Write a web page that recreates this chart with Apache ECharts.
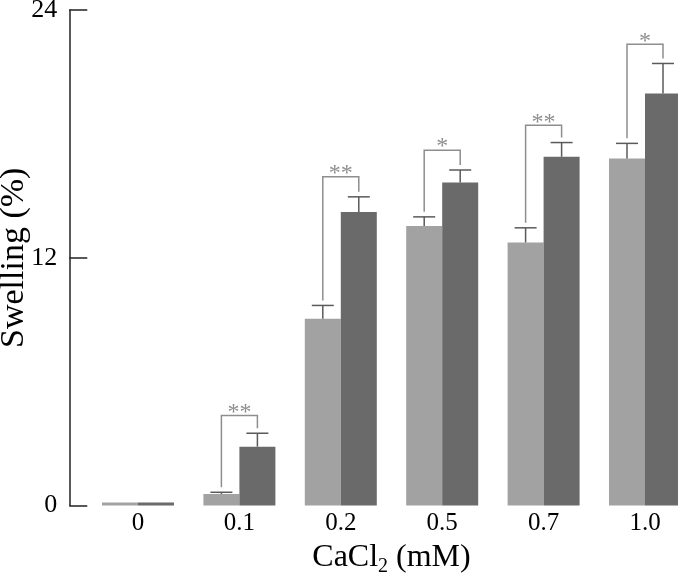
<!DOCTYPE html>
<html>
<head>
<meta charset="utf-8">
<script src="https://cdn.jsdelivr.net/npm/echarts@6/dist/echarts.min.js"></script>
<style>
html,body{margin:0;padding:0;background:#fff;}
#chart{width:678px;height:578px;}
</style>
</head>
<body>
<div id="chart"></div>
<script>
// ---- data ----
const categories = ['0', '0.1', '0.2', '0.5', '0.7', '1.0'];
const lightValues = [0.15, 0.56, 9.05, 13.54, 12.74, 16.81];
const lightErrors = [0, 0.08, 0.64, 0.44, 0.71, 0.73];
const darkValues = [0.15, 2.85, 14.22, 15.65, 16.89, 19.96];
const darkErrors = [0, 0.65, 0.73, 0.6, 0.69, 1.45];
const bracketHeights = [null, 4.36, 15.92, 17.21, 18.42, 22.34];
const sigLabels = ['', '**', '**', '*', '**', '*'];
const yTicks = [0, 12, 24];

// ---- styles ----
const FONT = '"Liberation Serif", "Times New Roman", serif';
const BAR_W = 36;
const LIGHT = '#a2a2a2';
const DARK = '#6a6a6a';
const ERR_COLOR = '#5a5a5a';
const BRACKET_COLOR = '#8e8e8e';

const errData = [];
categories.forEach((c, i) => {
  if (lightErrors[i] > 0) errData.push([i, lightValues[i], lightErrors[i], -1]);
  if (darkErrors[i] > 0) errData.push([i, darkValues[i], darkErrors[i], 1]);
});
const bracketData = [];
categories.forEach((c, i) => {
  if (bracketHeights[i] != null) {
    bracketData.push([i, lightValues[i] + lightErrors[i], darkValues[i] + darkErrors[i], bracketHeights[i], sigLabels[i]]);
  }
});

const chart = echarts.init(document.getElementById('chart'), null, {renderer: 'canvas'});
chart.setOption({
  animation: false,
  backgroundColor: '#fff',
  grid: {left: 87.3, right: -17.7, top: 10, bottom: 72.5, outerBoundsMode: 'none', containLabel: false},
  xAxis: {
    type: 'category',
    data: categories,
    axisLine: {show: false},
    axisTick: {show: false},
    axisLabel: {fontFamily: FONT, fontSize: 25, color: '#000', margin: 5},
    name: '{a|CaCl}{s|2}{a| (mM)}',
    nameLocation: 'middle',
    nameGap: 52,
    nameMoveOverlap: false,
    nameTextStyle: {
      verticalAlign: 'middle',
      rich: {
        a: {fontFamily: FONT, fontSize: 32, color: '#000', lineHeight: 36},
        s: {fontFamily: FONT, fontSize: 20, color: '#000', lineHeight: 20, padding: [17, 0, 0, 0], verticalAlign: 'top'}
      }
    }
  },
  yAxis: {
    type: 'value',
    min: yTicks[0],
    max: yTicks[yTicks.length - 1],
    interval: yTicks[1] - yTicks[0],
    offset: 18,
    axisLine: {show: true, lineStyle: {color: '#222', width: 1.5}},
    axisTick: {show: true, inside: true, length: 18, lineStyle: {color: '#222', width: 1.5}},
    splitLine: {show: false},
    axisLabel: {fontFamily: FONT, fontSize: 26, color: '#000', margin: 12},
    name: 'Swelling (%)',
    nameLocation: 'middle',
    nameRotate: 90,
    nameGap: 55,
    nameMoveOverlap: false,
    nameTextStyle: {fontFamily: FONT, fontSize: 34, color: '#000', verticalAlign: 'middle'}
  },
  series: [
    {type: 'bar', data: lightValues, barWidth: BAR_W, barGap: '0%', itemStyle: {color: LIGHT}},
    {type: 'bar', data: darkValues, barWidth: BAR_W, barGap: '0%', itemStyle: {color: DARK}},
    {
      type: 'custom',
      data: errData,
      clip: false,
      z: 5,
      renderItem: function (params, api) {
        const i = api.value(0), v = api.value(1), e = api.value(2), side = api.value(3);
        const base = api.coord([i, v]);
        const topP = api.coord([i, v + e]);
        const x = base[0] + side * BAR_W / 2;
        const capW = 22;
        return {
          type: 'group',
          children: [
            {type: 'line', shape: {x1: x, y1: base[1], x2: x, y2: topP[1]}, style: {stroke: ERR_COLOR, lineWidth: 1.5}},
            {type: 'line', shape: {x1: x - capW / 2, y1: topP[1], x2: x + capW / 2, y2: topP[1]}, style: {stroke: ERR_COLOR, lineWidth: 1.5}}
          ]
        };
      }
    },
    {
      type: 'custom',
      data: bracketData,
      clip: false,
      z: 6,
      renderItem: function (params, api) {
        const i = api.value(0);
        const lTop = api.value(1), dTop = api.value(2), bH = api.value(3);
        const label = bracketData[params.dataIndex][4];
        const xc = api.coord([i, 0])[0];
        const xl = xc - BAR_W / 2, xr = xc + BAR_W / 2;
        const yT = api.coord([i, bH])[1];
        const yL = api.coord([i, lTop])[1] - 5;
        const yR = api.coord([i, dTop])[1] - 5;
        return {
          type: 'group',
          children: [
            {type: 'polyline', shape: {points: [[xl, yL], [xl, yT], [xr, yT], [xr, yR]]}, style: {stroke: BRACKET_COLOR, lineWidth: 1.5, fill: null}},
            {type: 'text', style: {text: label, x: (xl + xr) / 2, y: yT + 9, align: 'center', verticalAlign: 'bottom', fontFamily: FONT, fontSize: 24, fill: BRACKET_COLOR}}
          ]
        };
      }
    }
  ]
});
</script>
</body>
</html>
